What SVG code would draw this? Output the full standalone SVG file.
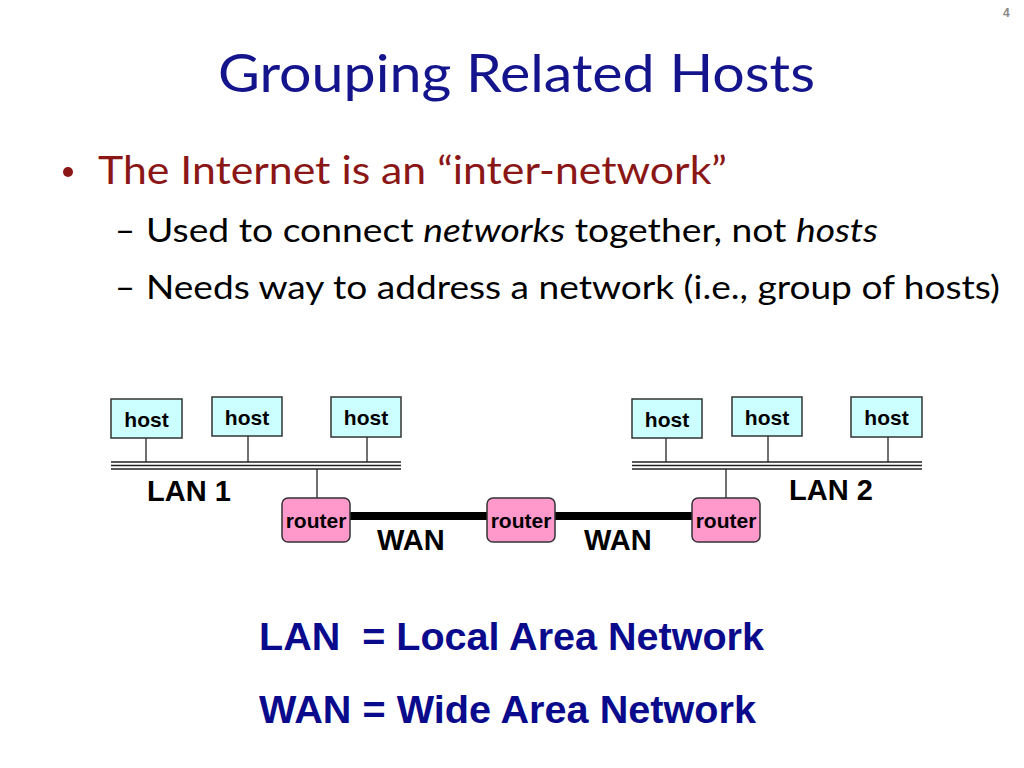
<svg xmlns="http://www.w3.org/2000/svg" width="1024" height="768" viewBox="0 0 1024 768">
<style>
.title{font-family:Lato,"Open Sans","Noto Sans",sans-serif;font-size:53px;fill:#14148c}
.b1{font-family:Lato,"Open Sans","Noto Sans",sans-serif;font-size:38px;fill:#8b1616}
.b2{font-family:Lato,"Open Sans","Noto Sans",sans-serif;font-size:33.5px;fill:#000}
.host rect{fill:#ccffff;stroke:#333;stroke-width:1.5}
.router rect{fill:#ff99cc;stroke:#333;stroke-width:1.5}
.lbl{font-family:"Liberation Sans",Arial,sans-serif;font-weight:bold;font-size:21px;fill:#000;text-anchor:middle}
.net{font-family:"Liberation Sans",Arial,sans-serif;font-weight:bold;font-size:29px;fill:#000}
.def{font-family:"Liberation Sans",Arial,sans-serif;font-weight:bold;font-size:39.5px;fill:#0a0a8c}
.thin{stroke:#222;stroke-width:1.3;fill:none}
.bus{stroke:#222;stroke-width:1.3;fill:none}
.wan{stroke:#000;stroke-width:8;fill:none}
</style>
<rect width="1024" height="768" fill="#fff"/>
<text x="1003" y="17" font-family="'Liberation Sans',Arial,sans-serif" font-size="12" font-weight="bold" fill="#888">4</text>
<text class="title" x="218" y="92" textLength="597" lengthAdjust="spacingAndGlyphs">Grouping Related Hosts</text>
<circle cx="68" cy="172" r="5" fill="#8b1616"/>
<text class="b1" x="98" y="184" textLength="629" lengthAdjust="spacingAndGlyphs">The Internet is an “inter-network”</text>
<text class="b2" x="115" y="242" textLength="20" lengthAdjust="spacingAndGlyphs">–</text>
<text class="b2" x="146" y="242" textLength="732" lengthAdjust="spacingAndGlyphs">Used to connect <tspan font-style="italic">networks</tspan> together, not <tspan font-style="italic">hosts</tspan></text>
<text class="b2" x="115" y="299" textLength="20" lengthAdjust="spacingAndGlyphs">–</text>
<text class="b2" x="146" y="299" textLength="854" lengthAdjust="spacingAndGlyphs">Needs way to address a network (i.e., group of hosts)</text>

<g id="connectors">
<g id="lan1-bus">
<line class="bus" x1="111" y1="462" x2="401" y2="462"/>
<line class="bus" x1="111" y1="465.5" x2="401" y2="465.5"/>
<line class="bus" x1="111" y1="469" x2="401" y2="469"/>
</g>
<g id="lan2-bus">
<line class="bus" x1="632" y1="462" x2="922" y2="462"/>
<line class="bus" x1="632" y1="465.5" x2="922" y2="465.5"/>
<line class="bus" x1="632" y1="469" x2="922" y2="469"/>
</g>
<line class="thin" x1="146" y1="438" x2="146" y2="462"/>
<line class="thin" x1="248" y1="436" x2="248" y2="462"/>
<line class="thin" x1="367" y1="437" x2="367" y2="462"/>
<line class="thin" x1="317" y1="469" x2="317" y2="498"/>
<line class="thin" x1="666" y1="438" x2="666" y2="462"/>
<line class="thin" x1="768" y1="436" x2="768" y2="462"/>
<line class="thin" x1="888" y1="437" x2="888" y2="462"/>
<line class="thin" x1="726" y1="469" x2="726" y2="498"/>
<line class="wan" x1="350" y1="516" x2="487" y2="516"/>
<line class="wan" x1="555" y1="516" x2="692" y2="516"/>
</g>

<g id="host1" class="host"><rect x="111" y="399" width="71" height="39"/><text class="lbl" x="146.5" y="427">host</text></g>
<g id="host2" class="host"><rect x="212" y="397" width="70" height="39"/><text class="lbl" x="247" y="425">host</text></g>
<g id="host3" class="host"><rect x="331" y="397" width="70" height="40"/><text class="lbl" x="366" y="425">host</text></g>
<g id="host4" class="host"><rect x="632" y="399" width="70" height="39"/><text class="lbl" x="667" y="427">host</text></g>
<g id="host5" class="host"><rect x="732" y="397" width="70" height="39"/><text class="lbl" x="767" y="425">host</text></g>
<g id="host6" class="host"><rect x="851" y="397" width="71" height="40"/><text class="lbl" x="886.5" y="425">host</text></g>

<g id="router1" class="router"><rect x="282" y="498" width="68" height="44" rx="6"/><text class="lbl" x="316" y="528">router</text></g>
<g id="router2" class="router"><rect x="487" y="498" width="68" height="44" rx="6"/><text class="lbl" x="521" y="528">router</text></g>
<g id="router3" class="router"><rect x="692" y="498" width="68" height="44" rx="6"/><text class="lbl" x="726" y="528">router</text></g>

<text class="net" x="147" y="501">LAN 1</text>
<text class="net" x="789" y="500">LAN 2</text>
<text class="net" x="377" y="550">WAN</text>
<text class="net" x="584" y="550">WAN</text>

<text class="def" x="259" y="650" xml:space="preserve" textLength="505" lengthAdjust="spacingAndGlyphs">LAN  = Local Area Network</text>
<text class="def" x="259" y="723" textLength="497" lengthAdjust="spacingAndGlyphs">WAN = Wide Area Network</text>
</svg>
